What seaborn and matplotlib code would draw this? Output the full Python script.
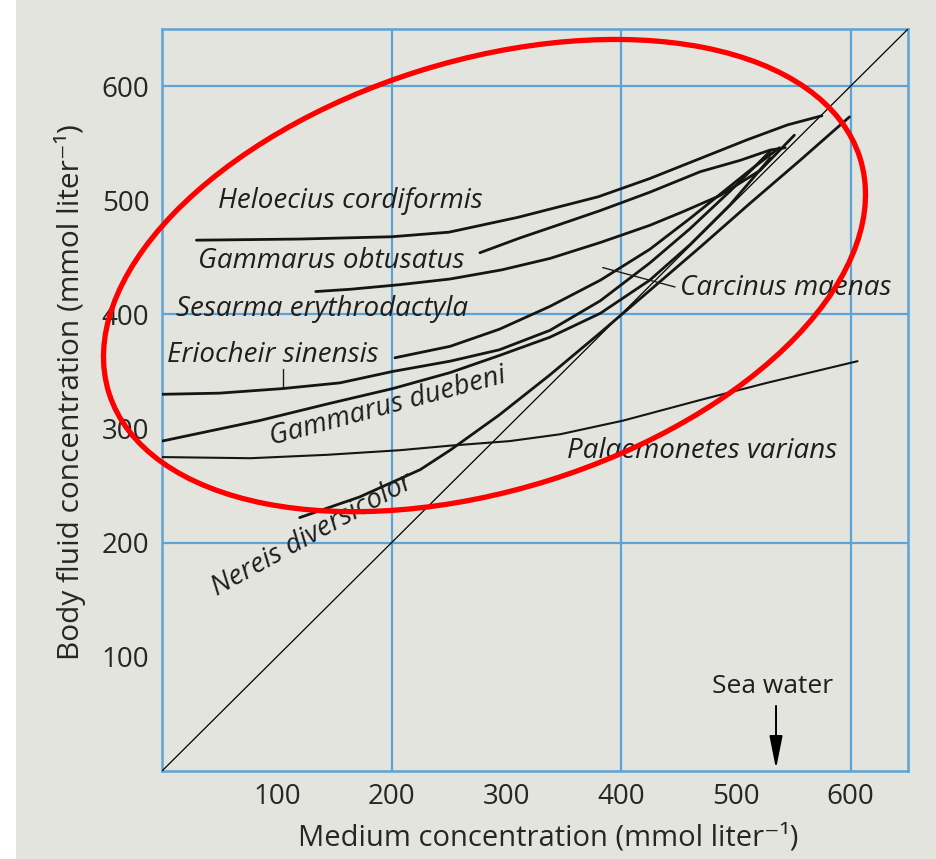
import matplotlib
matplotlib.use("Agg")
import matplotlib.pyplot as plt
from matplotlib.patches import Ellipse, Rectangle
import seaborn as sns
import pandas as pd

# Body-fluid concentration against medium concentration (mmol/l)
heloecius_x = [30, 120, 200, 250, 310, 380, 425, 470, 510, 545, 575]
heloecius_y = [465, 466, 468, 472, 485, 503, 519, 537, 553, 566, 574]

obtusatus_x = [277, 312, 353, 382, 425, 469, 504, 530, 543]
obtusatus_y = [454, 467, 481, 491, 507, 525, 535, 544, 546]

sesarma_x = [134, 164, 207, 251, 296, 338, 382, 425, 454, 486, 521, 551]
sesarma_y = [420, 422, 426, 431, 439, 449, 463, 478, 490, 504, 526, 557]

carcinus_x = [203, 251, 294, 338, 382, 425, 460, 486, 512, 538]
carcinus_y = [362, 372, 387, 407, 430, 457, 484, 505, 526, 546]

eriocheir_x = [0, 50, 105, 155, 201, 251, 294, 338, 382, 425, 460, 495, 530]
eriocheir_y = [330, 331, 335, 340, 350, 359, 369, 386, 412, 445, 475, 508, 543]

duebeni_x = [0, 85, 146, 201, 251, 294, 338, 382, 425, 460, 495, 530]
duebeni_y = [289, 307, 322, 335, 349, 364, 380, 401, 430, 461, 496, 537]

palaemonetes_x = [0, 77, 144, 207, 251, 303, 347, 402, 469, 527, 606]
palaemonetes_y = [275, 274, 277, 281, 285, 289, 295, 307, 325, 340, 359]

nereis_x = [120, 172, 225, 251, 294, 338, 382, 425, 469, 512, 556, 599]
nereis_y = [222, 240, 264, 281, 312, 347, 384, 421, 459, 497, 535, 573]

# Isosmotic line (body fluid = medium)
iso_x = [0, 650]
iso_y = [0, 650]

tick_values = [100, 200, 300, 400, 500, 600]
grid_values = [200, 400, 600]
minor_values = [100, 300, 500]
sea_water = 535

curves = {
    "Heloecius cordiformis": (heloecius_x, heloecius_y),
    "Gammarus obtusatus": (obtusatus_x, obtusatus_y),
    "Sesarma erythrodactyla": (sesarma_x, sesarma_y),
    "Carcinus maenas": (carcinus_x, carcinus_y),
    "Eriocheir sinensis": (eriocheir_x, eriocheir_y),
    "Gammarus duebeni": (duebeni_x, duebeni_y),
    "Palaemonetes varians": (palaemonetes_x, palaemonetes_y),
    "Nereis diversicolor": (nereis_x, nereis_y),
}
frames = []
for name, (xs, ys) in curves.items():
    frames.append(pd.DataFrame({"species": name, "medium": xs, "body": ys}))
df = pd.concat(frames, ignore_index=True)

BG = "#e4e4de"
BLUE = "#5ca3d8"
INK = "#1e1e1e"
FONT = ["Open Sans", "DejaVu Sans"]

sns.set_theme(style="white")
plt.rcParams["font.family"] = FONT

fig = plt.figure(figsize=(9.36, 8.59), dpi=100, facecolor=BG)
fig.patches.append(Rectangle((0, 0), 16 / 936, 1, transform=fig.transFigure,
                             facecolor="white", edgecolor="none", zorder=-1))
ax = fig.add_axes([162 / 936, 88 / 859, 746 / 936, 742 / 859])
ax.set_facecolor(BG)

# grid lines at 200/400/600
for v in grid_values:
    ax.axvline(v, color=BLUE, lw=1.6, zorder=1)
    ax.axhline(v, color=BLUE, lw=1.6, zorder=1)

sns.lineplot(x=iso_x, y=iso_y, ax=ax, color="black", lw=0.9, zorder=3)

for name in curves:
    sub = df[df["species"] == name]
    lw = 1.5 if name == "Palaemonetes varians" else 2.0
    sns.lineplot(data=sub, x="medium", y="body", ax=ax, sort=False,
                 estimator=None, color="#151515", lw=lw, zorder=4)

ax.set_xlim(0, 650)
ax.set_ylim(0, 650)
ax.set_xlabel("")
ax.set_ylabel("")

for s in ax.spines.values():
    s.set_color(BLUE)
    s.set_linewidth(1.8)

ax.set_xticks(tick_values)
ax.set_yticks(tick_values)
ax.set_xticklabels([str(v) for v in tick_values])
ax.set_yticklabels([str(v) for v in tick_values])
ax.tick_params(axis="both", which="major", length=0, labelsize=20,
               colors="#262626", pad=9)
ax.set_xticks(minor_values, minor=True)
ax.set_yticks(minor_values, minor=True)
ax.tick_params(axis="both", which="minor", direction="in", length=15,
               width=1.3, color=BLUE, top=True, right=True,
               bottom=True, left=True)

# species labels
lab = dict(fontsize=20, style="italic", color=INK, zorder=6)
ax.text(49, 499, "Heloecius cordiformis", ha="left", va="center", **lab)
ax.text(31, 447, "Gammarus obtusatus", ha="left", va="center", **lab)
ax.text(12, 405, "Sesarma erythrodactyla", ha="left", va="center", **lab)
ax.text(4, 364, "Eriocheir sinensis", ha="left", va="center", **lab)
ax.text(197, 319, "Gammarus duebeni", ha="center", va="center",
        rotation=15, rotation_mode="anchor", **lab)
ax.text(131, 207, "Nereis diversicolor", ha="center", va="center",
        rotation=29, rotation_mode="anchor", **lab)
ax.text(451, 423, "Carcinus maenas", ha="left", va="center", **lab)
ax.text(353, 280, "Palaemonetes varians", ha="left", va="center", **lab)

# leader lines
ax.plot([447, 384], [424, 441], color=INK, lw=1.0, zorder=4)
ax.plot([105, 105], [336, 352], color=INK, lw=1.0, zorder=4)

# sea water marker
ax.text(532, 74, "Sea water", ha="center", va="center", fontsize=19,
        color=INK)
ax.annotate("", xy=(sea_water, 2), xytext=(sea_water, 57),
            arrowprops=dict(arrowstyle="-|>,head_length=1.0,head_width=0.2",
                            color="black", lw=1.4, mutation_scale=20,
                            shrinkA=0, shrinkB=0))

# highlight ring
ax.add_patch(Ellipse((281, 434), width=686, height=376, angle=17.5,
                     fill=False, edgecolor="#ff0000", lw=3.8,
                     clip_on=False, zorder=7))

fig.text(548 / 936, 1 - 838 / 859, "Medium concentration (mmol liter⁻¹)",
         ha="center", va="center", fontsize=21, color="#262626")
fig.text(70 / 936, 1 - 392 / 859, "Body fluid concentration (mmol liter⁻¹)",
         ha="center", va="center", fontsize=21.5, rotation=90, color="#262626")

fig.savefig("out.png", dpi=100, facecolor=BG)
